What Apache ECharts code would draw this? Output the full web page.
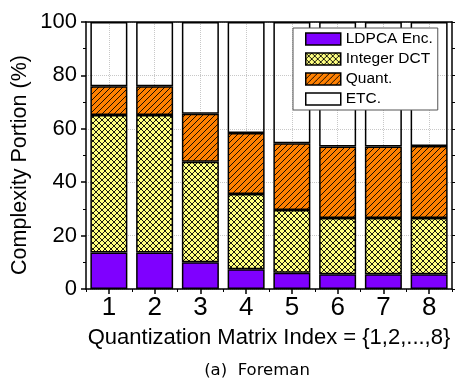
<!DOCTYPE html>
<html>
<head>
<meta charset="utf-8">
<script src="https://cdn.jsdelivr.net/npm/echarts@6/dist/echarts.min.js"></script>
<style>html,body{margin:0;padding:0;background:#fff;}#c{width:459px;height:385px;}</style>
</head>
<body>
<div id="c"></div>
<script>
const categories = ['1','2','3','4','5','6','7','8'];
const ldpcaEnc   = [13.7, 13.7, 10.0, 7.4, 6.1, 5.5, 5.5, 5.5];
const integerDct = [51.5, 51.5, 37.7, 28.2, 23.5, 21.1, 21.1, 21.1];
const quant      = [10.7, 10.7, 17.9, 22.8, 25.0, 26.8, 26.8, 27.0];
const etc        = [24.1, 24.1, 34.4, 41.6, 45.4, 46.6, 46.6, 46.4];
const seriesNames = ['LDPCA Enc.', 'Integer DCT', 'Quant.', 'ETC.'];
const yTicks = [0, 20, 40, 60, 80, 100];

const FONT = '"Liberation Sans", Arial, sans-serif';

function makePattern(bg, cross, size) {
  const c = document.createElement('canvas');
  c.width = size; c.height = size;
  const g = c.getContext('2d');
  g.fillStyle = bg; g.fillRect(0, 0, size, size);
  g.strokeStyle = '#000'; g.lineWidth = 0.9;
  g.beginPath();
  g.moveTo(-1, size + 1); g.lineTo(size + 1, -1);
  g.moveTo(-1, 1); g.lineTo(1, -1);
  g.moveTo(size - 1, size + 1); g.lineTo(size + 1, size - 1);
  if (cross) {
    g.moveTo(-1, -1); g.lineTo(size + 1, size + 1);
    g.moveTo(size - 1, -1); g.lineTo(size + 1, 1);
    g.moveTo(-1, size - 1); g.lineTo(1, size + 1);
  }
  g.stroke();
  return c;
}
const yellowPat = { image: makePattern('#ffff80', true, 6), repeat: 'repeat' };
const orangePat = { image: makePattern('#ff8000', false, 6), repeat: 'repeat' };

const chart = echarts.init(document.getElementById('c'), null, { renderer: 'canvas' });
const border = { borderColor: '#000', borderWidth: 1.5 };
const dataSets = [ldpcaEnc, integerDct, quant, etc];
const fills = ['#7f00ff', yellowPat, orangePat, 'rgba(255,255,255,0)'];

const barSeries = seriesNames.map((n, i) => ({
  name: n, type: 'bar', stack: 'total', barWidth: 37,
  xAxisIndex: 0, yAxisIndex: 0, z: 3,
  data: dataSets[i],
  itemStyle: Object.assign({ color: fills[i] }, border),
  emphasis: { disabled: true }
}));
const gridSeries = {
  name: 'vgrid', type: 'line', data: [], xAxisIndex: 0, yAxisIndex: 0, z: 1, silent: true,
  markLine: {
    z: 1, zlevel: 0,
    silent: true, symbol: ['none', 'none'], label: { show: false }, animation: false,
    lineStyle: { color: '#c8c8c8', type: 'dotted', width: 1 },
    emphasis: { disabled: true },
    data: categories.map(c => ({ xAxis: c }))
  }
};

chart.setOption({
  animation: false,
  backgroundColor: '#fff',
  grid: { left: 86, right: 7, top: 22, bottom: 96, containLabel: false },
  title: {
    text: '(a)  Foreman', left: 252, top: 357, textAlign: 'center',
    textStyle: { fontFamily: '"DejaVu Sans", sans-serif', fontSize: 16.5, fontWeight: 'normal', color: '#000' }
  },
  graphic: [{
    type: 'text', x: 20, y: 165, rotation: Math.PI / 2,
    style: { text: 'Complexity Portion (%)', font: '21.5px ' + FONT, fill: '#000', align: 'center', verticalAlign: 'middle' }
  }],
  legend: {
    orient: 'vertical', left: 293, top: 28,
    padding: [3, 5, 3, 12], itemWidth: 35, itemHeight: 12, itemGap: 4,
    icon: 'rect', borderColor: '#555', borderWidth: 1, backgroundColor: '#fff',
    textStyle: { fontFamily: FONT, fontSize: 15.5, color: '#000' },
    data: seriesNames.map((n, i) => i === 3 ? { name: n, itemStyle: { color: '#fff' } } : { name: n }),
    itemStyle: { borderColor: '#000', borderWidth: 1.5 }
  },
  xAxis: [
    {
      type: 'category', data: categories, position: 'bottom',
      axisLine: { show: true, lineStyle: { color: '#000', width: 1.5 } },
      axisTick: { show: true, alignWithLabel: true, length: 5, lineStyle: { color: '#000', width: 1.5 } },
      axisLabel: { fontFamily: FONT, fontSize: 26, color: '#000', margin: 6 },
      splitLine: { show: false },
      name: 'Quantization Matrix Index = {1,2,...,8}', nameLocation: 'middle', nameGap: 38,
      nameTextStyle: { fontFamily: FONT, fontSize: 22, color: '#000' }
    },
    {
      type: 'category', data: categories, position: 'bottom',
      axisLine: { show: false },
      axisTick: { show: true, length: 3, lineStyle: { color: '#000', width: 1 } },
      axisLabel: { show: false }, splitLine: { show: false }
    },
    {
      type: 'category', data: categories, position: 'top',
      axisLine: { show: true, lineStyle: { color: '#000', width: 1.5 } },
      axisTick: { show: false }, axisLabel: { show: false }, splitLine: { show: false }
    }
  ],
  yAxis: [
    {
      type: 'value', min: yTicks[0], max: yTicks[yTicks.length - 1], interval: 20, position: 'left',
      axisLine: { show: true, lineStyle: { color: '#000', width: 1.5 } },
      axisTick: { show: true, length: 5, lineStyle: { color: '#000', width: 1.5 } },
      minorTick: { show: true, splitNumber: 2, length: 3, lineStyle: { color: '#000', width: 1 } },
      axisLabel: { fontFamily: FONT, fontSize: 22, color: '#000', margin: 9 },
      splitLine: { show: true, lineStyle: { color: '#c8c8c8', type: 'dotted', width: 1 } }
    },
    {
      type: 'value', min: 0, max: 100, interval: 20, position: 'right',
      axisLine: { show: true, lineStyle: { color: '#000', width: 1.5 } },
      axisTick: { show: true, length: 3, lineStyle: { color: '#000', width: 1 } },
      minorTick: { show: true, splitNumber: 2, length: 3, lineStyle: { color: '#000', width: 1 } },
      axisLabel: { show: false }, splitLine: { show: false }
    }
  ],
  series: [gridSeries].concat(barSeries)
});
</script>
</body>
</html>
